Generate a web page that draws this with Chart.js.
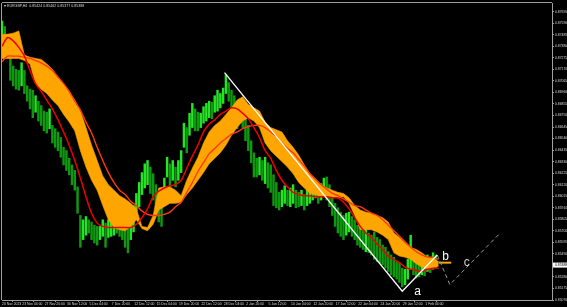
<!DOCTYPE html>
<html>
<head>
<meta charset="utf-8">
<script src="https://cdn.jsdelivr.net/npm/chart.js@4.4.1/dist/chart.umd.min.js"></script>
<style>
  html, body { margin: 0; padding: 0; background: #000; }
  canvas { display: block; }
</style>
</head>
<body>
<canvas id="chart" width="567" height="307"></canvas>
<script>
// Symbol / header
const symbolTitle = '\u25BE EURGBP,H4  0.85424 0.85462 0.85377 0.85388';
const lastPrice = 0.85388;

// Price scale (right side)
const priceTicks = [0.87695, 0.87590, 0.87485, 0.87380, 0.87275, 0.87170, 0.87065, 0.86960, 0.86855,
    0.86750, 0.86645, 0.86540, 0.86435, 0.86330, 0.86225, 0.86120, 0.86015, 0.85910, 0.85805,
    0.85700, 0.85595, 0.85490, 0.85385, 0.85280, 0.85175, 0.85070];
const priceMin = 0.85070;
const priceMax = 0.87774;

// Time scale (bar numbers, H4)
const barsOnScreen = 393;
const timeTickBars = [0, 14.5, 30.5, 46.5, 62.5, 78.5, 94.5, 110.5, 126.5, 142.5, 158.5, 174.5,
    190.5, 206.5, 222.5, 238.5, 254.5, 270.5, 286.5, 302.5];
const timeTickLabels = ['20 Nov 2023', '23 Nov 04:00', '27 Nov 20:00', '30 Nov 12:00', '5 Dec 04:00',
    '7 Dec 20:00', '12 Dec 12:00', '15 Dec 04:00', '19 Dec 20:00', '22 Dec 12:00', '28 Dec 04:00',
    '2 Jan 20:00', '5 Jan 12:00', '10 Jan 04:00', '12 Jan 20:00', '17 Jan 12:00', '22 Jan 04:00',
    '24 Jan 20:00', '29 Jan 12:00', '1 Feb 04:00'];

// Candles (one sample every 2 bars)
const candleStep = 2;
const candleHigh = [0.8761, 0.8756, 0.8749, 0.8729, 0.8720, 0.8717, 0.8716, 0.8723, 0.8716, 0.8702,
    0.8699, 0.8698, 0.8693, 0.8688, 0.8684, 0.8679, 0.8678, 0.8681, 0.8666, 0.8663,
    0.8660, 0.8655, 0.8646, 0.8643, 0.8636, 0.8630, 0.8625, 0.8610, 0.8584, 0.8580,
    0.8583, 0.8580, 0.8578, 0.8575, 0.8574, 0.8574, 0.8580, 0.8577, 0.8580, 0.8582,
    0.8583, 0.8580, 0.8580, 0.8582, 0.8575, 0.8574, 0.8582, 0.8593, 0.8604, 0.8614,
    0.8623, 0.8631, 0.8634, 0.8628, 0.8622, 0.8612, 0.8603, 0.8598, 0.8618, 0.8637,
    0.8631, 0.8634, 0.8628, 0.8634, 0.8643, 0.8668, 0.8664, 0.8677, 0.8686, 0.8681,
    0.8678, 0.8677, 0.8683, 0.8686, 0.8688, 0.8687, 0.8693, 0.8698, 0.8695, 0.8700,
    0.8712, 0.8705, 0.8698, 0.8693, 0.8688, 0.8690, 0.8686, 0.8675, 0.8666, 0.8652,
    0.8641, 0.8636, 0.8637, 0.8634, 0.8637, 0.8632, 0.8630, 0.8621, 0.8614, 0.8605,
    0.8607, 0.8611, 0.8607, 0.8609, 0.8612, 0.8607, 0.8605, 0.8607, 0.8603, 0.8607,
    0.8609, 0.8612, 0.8614, 0.8611, 0.8613, 0.8618, 0.8619, 0.8612, 0.8603, 0.8595,
    0.8591, 0.8587, 0.8584, 0.8586, 0.8587, 0.8583, 0.8580, 0.8575, 0.8574, 0.8571,
    0.8573, 0.8568, 0.8566, 0.8569, 0.8564, 0.8562, 0.8557, 0.8555, 0.8551, 0.8548,
    0.8546, 0.8542, 0.8541, 0.8536, 0.8535, 0.8544, 0.8566, 0.8551, 0.8546, 0.8544,
    0.8547, 0.8546, 0.8548, 0.8546, 0.8550, 0.8548];
const candleLow = [0.8746, 0.8738, 0.8727, 0.8707, 0.8702, 0.8699, 0.8698, 0.8702, 0.8695, 0.8688,
    0.8681, 0.8673, 0.8678, 0.8670, 0.8666, 0.8661, 0.8659, 0.8663, 0.8650, 0.8646,
    0.8643, 0.8637, 0.8630, 0.8625, 0.8621, 0.8612, 0.8607, 0.8586, 0.8555, 0.8562,
    0.8566, 0.8568, 0.8562, 0.8559, 0.8557, 0.8562, 0.8565, 0.8555, 0.8564, 0.8565,
    0.8566, 0.8568, 0.8565, 0.8562, 0.8555, 0.8550, 0.8562, 0.8569, 0.8586, 0.8592,
    0.8603, 0.8609, 0.8612, 0.8604, 0.8598, 0.8584, 0.8578, 0.8574, 0.8593, 0.8619,
    0.8610, 0.8616, 0.8610, 0.8616, 0.8623, 0.8646, 0.8641, 0.8657, 0.8664, 0.8661,
    0.8661, 0.8664, 0.8668, 0.8670, 0.8673, 0.8672, 0.8678, 0.8679, 0.8682, 0.8686,
    0.8695, 0.8688, 0.8679, 0.8673, 0.8663, 0.8672, 0.8664, 0.8652, 0.8643, 0.8632,
    0.8619, 0.8619, 0.8621, 0.8616, 0.8613, 0.8609, 0.8605, 0.8593, 0.8591, 0.8589,
    0.8592, 0.8595, 0.8593, 0.8592, 0.8595, 0.8591, 0.8592, 0.8593, 0.8589, 0.8593,
    0.8595, 0.8598, 0.8600, 0.8595, 0.8598, 0.8601, 0.8598, 0.8592, 0.8584, 0.8574,
    0.8568, 0.8565, 0.8562, 0.8566, 0.8569, 0.8565, 0.8562, 0.8557, 0.8555, 0.8553,
    0.8551, 0.8550, 0.8548, 0.8544, 0.8542, 0.8541, 0.8539, 0.8536, 0.8533, 0.8530,
    0.8528, 0.8526, 0.8523, 0.8519, 0.8521, 0.8526, 0.8535, 0.8530, 0.8527, 0.8528,
    0.8530, 0.8529, 0.8533, 0.8532, 0.8535, 0.8536];

// Cloud and averages (one sample every 4 bars)
const lineStep = 4;
const cloudTop = [0.8749, 0.8749, 0.8750, 0.8752, 0.8730, 0.8728, 0.8727, 0.8726, 0.8722, 0.8717,
    0.8710, 0.8704, 0.8697, 0.8689, 0.8679, 0.8664, 0.8648, 0.8634, 0.8620, 0.8612,
    0.8607, 0.8602, 0.8599, 0.8595, 0.8590, 0.8574, 0.8573, 0.8584, 0.8609, 0.8610,
    0.8610, 0.8607, 0.8602, 0.8616, 0.8627, 0.8637, 0.8650, 0.8660, 0.8666, 0.8670,
    0.8676, 0.8682, 0.8689, 0.8692, 0.8685, 0.8682, 0.8679, 0.8669, 0.8664, 0.8662,
    0.8660, 0.8652, 0.8646, 0.8639, 0.8630, 0.8622, 0.8617, 0.8612, 0.8609, 0.8607,
    0.8605, 0.8604, 0.8600, 0.8593, 0.8589, 0.8587, 0.8586, 0.8584, 0.8582, 0.8578,
    0.8568, 0.8564, 0.8559, 0.8555, 0.8553, 0.8550, 0.8546, 0.8545, 0.8542];
const cloudBottom = [0.8727, 0.8727, 0.8727, 0.8727, 0.8725, 0.8722, 0.8704, 0.8699, 0.8695, 0.8689,
    0.8684, 0.8676, 0.8669, 0.8661, 0.8643, 0.8628, 0.8616, 0.8607, 0.8593, 0.8580,
    0.8573, 0.8571, 0.8570, 0.8574, 0.8580, 0.8572, 0.8570, 0.8576, 0.8589, 0.8592,
    0.8595, 0.8595, 0.8596, 0.8603, 0.8609, 0.8616, 0.8623, 0.8631, 0.8636, 0.8641,
    0.8648, 0.8657, 0.8664, 0.8670, 0.8673, 0.8670, 0.8664, 0.8650, 0.8643, 0.8638,
    0.8633, 0.8628, 0.8622, 0.8614, 0.8609, 0.8604, 0.8603, 0.8601, 0.8601, 0.8601,
    0.8600, 0.8601, 0.8595, 0.8584, 0.8571, 0.8571, 0.8571, 0.8569, 0.8566, 0.8562,
    0.8550, 0.8547, 0.8546, 0.8544, 0.8540, 0.8537, 0.8535, 0.8536, 0.8538];
const maFast = [0.8738, 0.8746, 0.8743, 0.8737, 0.8729, 0.8716, 0.8704, 0.8697, 0.8689, 0.8681,
    0.8671, 0.8660, 0.8648, 0.8634, 0.8618, 0.8601, 0.8586, 0.8577, 0.8574, 0.8573,
    0.8573, 0.8573, 0.8573, 0.8573, 0.8576, 0.8582, 0.8590, 0.8601, 0.8606, 0.8609,
    0.8611, 0.8612, 0.8616, 0.8627, 0.8638, 0.8648, 0.8660, 0.8667, 0.8671, 0.8676,
    0.8679, 0.8682, 0.8681, 0.8677, 0.8672, 0.8664, 0.8655, 0.8643, 0.8636, 0.8625,
    0.8616, 0.8610, 0.8605, 0.8603, 0.8602, 0.8602, 0.8601, 0.8601, 0.8601, 0.8600,
    0.8600, 0.8596, 0.8590, 0.8582, 0.8574, 0.8568, 0.8564, 0.8558, 0.8553, 0.8547,
    0.8544, 0.8541, 0.8537, 0.8535, 0.8534, 0.8533, 0.8535, 0.8536, 0.8536];
const maSlow = [0.8724, 0.8729, 0.8729, 0.8729, 0.8728, 0.8727, 0.8725, 0.8723, 0.8720, 0.8716,
    0.8710, 0.8704, 0.8697, 0.8688, 0.8680, 0.8669, 0.8659, 0.8646, 0.8634, 0.8623,
    0.8614, 0.8607, 0.8603, 0.8597, 0.8593, 0.8588, 0.8585, 0.8584, 0.8584, 0.8585,
    0.8587, 0.8592, 0.8596, 0.8605, 0.8614, 0.8624, 0.8632, 0.8640, 0.8645, 0.8650,
    0.8654, 0.8658, 0.8660, 0.8663, 0.8665, 0.8666, 0.8666, 0.8664, 0.8660, 0.8656,
    0.8650, 0.8645, 0.8641, 0.8635, 0.8629, 0.8622, 0.8617, 0.8612, 0.8608, 0.8604,
    0.8602, 0.8599, 0.8596, 0.8593, 0.8592, 0.8589, 0.8586, 0.8584, 0.8580, 0.8575,
    0.8570, 0.8565, 0.8560, 0.8555, 0.8551, 0.8548, 0.8546, 0.8546, 0.8544];

// Wave drawing (bar number, price)
const waveBars = [159, 286, 311];
const wavePrices = [0.8714, 0.8515, 0.8548];
const projBars = [311, 320, 356];
const projPrices = [0.8548, 0.8521, 0.8568];
const levelBars = [312, 321];
const levelPrices = [0.8541, 0.8541];
const waveLabels = ['a', 'b', 'c'];
const waveLabelBars = [297, 317, 332];
const waveLabelPrices = [0.8515, 0.8546, 0.8541];
const waveLabelColors = ['#ffffff', '#ffffff', '#d0d0d0'];

// Colors
const axisColor = '#a0a0a0';
const textColor = '#d8d8d8';
const tinyFont = { family: 'Liberation Sans', size: 3.4 };

// Build points
const toPoints = function (bars, prices) {
    return prices.map((p, i) => ({ x: bars[i], y: p }));
};
const candlePoints = candleHigh.map((h, i) => ({ x: i * candleStep, y: [candleLow[i], h] }));
const candleColors = candleHigh.map((h, i) => {
    if (i === 0) { return '#22e622'; }
    return (h + candleLow[i]) >= (candleHigh[i - 1] + candleLow[i - 1]) ? '#22e622' : '#0e9a0e';
});
const linePoints = function (values) {
    return values.map((v, i) => ({ x: i * lineStep, y: v }));
};

// Frame, header, labels
const terminalPlugin = {
    id: 'terminalPlugin',
    beforeDraw(chart) {
        const ctx = chart.ctx;
        ctx.save();
        ctx.fillStyle = '#000';
        ctx.fillRect(0, 0, chart.width, chart.height);
        ctx.restore();
    },
    afterDatasetsDraw(chart) {
        const ctx = chart.ctx;
        const xs = chart.scales.x;
        const ys = chart.scales.y;
        ctx.save();
        ctx.font = '12px "Liberation Sans"';
        ctx.textAlign = 'center';
        ctx.textBaseline = 'middle';
        waveLabels.forEach((t, i) => {
            ctx.fillStyle = waveLabelColors[i];
            ctx.fillText(t, xs.getPixelForValue(waveLabelBars[i]), ys.getPixelForValue(waveLabelPrices[i]));
        });
        ctx.restore();
    },
    afterDraw(chart) {
        const ctx = chart.ctx;
        const area = chart.chartArea;
        const ys = chart.scales.y;
        ctx.save();

        // Top and left border
        ctx.strokeStyle = axisColor;
        ctx.lineWidth = 1;
        ctx.beginPath();
        ctx.moveTo(area.left, area.top - 0.5);
        ctx.lineTo(area.right, area.top - 0.5);
        ctx.moveTo(area.left - 0.5, area.top);
        ctx.lineTo(area.left - 0.5, area.bottom);
        ctx.stroke();

        // Header
        ctx.fillStyle = textColor;
        ctx.font = '3.6px "Liberation Sans"';
        ctx.textAlign = 'left';
        ctx.textBaseline = 'middle';
        ctx.fillText(symbolTitle, area.left + 2, area.top + 2.5);

        // Last price box
        const py = ys.getPixelForValue(lastPrice);
        ctx.fillStyle = '#ffffff';
        ctx.fillRect(area.right + 1, py - 2.5, chart.width - area.right - 1, 5);
        ctx.fillStyle = '#000000';
        ctx.font = '3.4px "Liberation Sans"';
        ctx.fillText(lastPrice.toFixed(5), area.right + 3, py);

        ctx.restore();
    }
};

const ctx = document.getElementById('chart').getContext('2d');
const chart = new Chart(ctx, {
    type: 'bar',
    data: {
        datasets: [

            // Price bars
            {
                type: 'bar',
                data: candlePoints,
                backgroundColor: candleColors,
                borderWidth: 0,
                barThickness: 1.8,
                grouped: false,
                order: 10
            },

            // Cloud
            {
                type: 'line',
                data: linePoints(cloudBottom),
                borderColor: '#ffa500',
                borderWidth: 0.6,
                pointRadius: 0,
                fill: false,
                order: 6
            },
            {
                type: 'line',
                data: linePoints(cloudTop),
                borderColor: '#ffa500',
                borderWidth: 0.6,
                backgroundColor: '#ffa500',
                pointRadius: 0,
                fill: '-1',
                order: 5
            },

            // Moving averages
            {
                type: 'line',
                data: linePoints(maSlow),
                borderColor: '#ff3a10',
                borderWidth: 1.4,
                pointRadius: 0,
                tension: 0.3,
                fill: false,
                order: 4
            },
            {
                type: 'line',
                data: linePoints(maFast),
                borderColor: '#ee0000',
                borderWidth: 1.5,
                pointRadius: 0,
                tension: 0.3,
                fill: false,
                order: 3
            },

            // Level line
            {
                type: 'line',
                data: toPoints(levelBars, levelPrices),
                borderColor: '#ffa500',
                borderWidth: 2,
                pointRadius: 0,
                fill: false,
                order: 2
            },

            // Wave a-b
            {
                type: 'line',
                data: toPoints(waveBars, wavePrices),
                borderColor: '#ffffff',
                borderWidth: 1.3,
                pointRadius: 0,
                fill: false,
                order: 1
            },

            // Projection c
            {
                type: 'line',
                data: toPoints(projBars, projPrices),
                borderColor: '#9a9a9a',
                borderWidth: 1,
                borderDash: [4, 3],
                pointRadius: 0,
                fill: false,
                order: 1
            }
        ]
    },
    options: {
        responsive: false,
        animation: false,
        devicePixelRatio: 1,
        layout: { padding: { left: 2, top: 2, right: 0, bottom: 0 } },
        plugins: {
            legend: { display: false },
            tooltip: { enabled: false },
            title: { display: false }
        },
        scales: {
            x: {
                type: 'linear',
                min: 0,
                max: barsOnScreen,
                offset: false,
                afterBuildTicks: function (scale) {
                    scale.ticks = timeTickBars.map(v => ({ value: v }));
                },
                afterFit: function (scale) { scale.height = 7; },
                ticks: {
                    callback: function (value, index) { return timeTickLabels[index]; },
                    align: 'start',
                    autoSkip: false,
                    maxRotation: 0,
                    minRotation: 0,
                    padding: 0,
                    color: textColor,
                    font: tinyFont
                },
                grid: { drawOnChartArea: false, color: axisColor, tickLength: 2 },
                border: { color: axisColor }
            },
            y: {
                type: 'linear',
                position: 'right',
                min: priceMin,
                max: priceMax,
                afterBuildTicks: function (scale) {
                    scale.ticks = priceTicks.map(v => ({ value: v }));
                },
                afterFit: function (scale) { scale.width = 15; },
                ticks: {
                    callback: function (value) { return value.toFixed(5); },
                    autoSkip: false,
                    padding: 1,
                    color: textColor,
                    font: tinyFont
                },
                grid: { drawOnChartArea: false, color: axisColor, tickLength: 2 },
                border: { color: axisColor }
            }
        }
    },
    plugins: [terminalPlugin]
});
</script>
</body>
</html>
